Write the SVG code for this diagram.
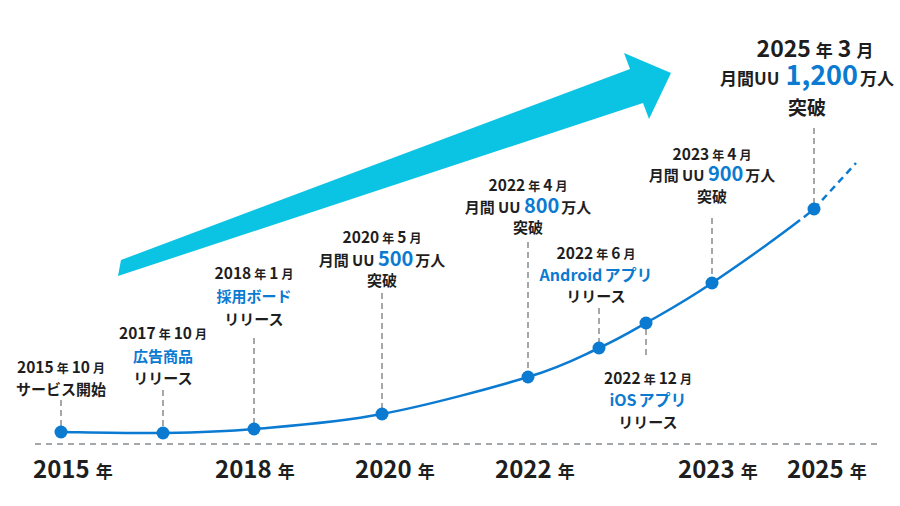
<svg xmlns="http://www.w3.org/2000/svg" width="900" height="506" viewBox="0 0 900 506">
<defs>
<style>
text{font-family:"Noto Sans CJK JP","Noto Sans",sans-serif;font-weight:700;fill:#1e1e1e;}
.m{text-anchor:middle;}
.b{fill:#0b7ad1;}
.lead{stroke:#a5a8ab;stroke-width:2;stroke-dasharray:6 4;fill:none;}
.dot{fill:#0b7ad1;}
.s{font-size:12px;}
.y{font-size:15.5px;}
.l{font-size:15px;}
.big{font-size:24px;}
</style>
</defs>
<rect width="900" height="506" fill="#fff"/>
<polygon id="arrow" points="121,260 630,69 624,53 671,73 649,119 643,103 118,276" fill="#0bc3e3"/>
<g id="connectors">
<line x1="35" y1="444" x2="882" y2="444" stroke="#a5a8ab" stroke-width="2" stroke-dasharray="6 5"/>
<line class="lead" x1="61" y1="400" x2="61" y2="426"/>
<line class="lead" x1="163" y1="390" x2="163" y2="427"/>
<line class="lead" x1="254" y1="338" x2="254" y2="423"/>
<line class="lead" x1="382" y1="293" x2="382" y2="408"/>
<line class="lead" x1="528" y1="242" x2="528" y2="371"/>
<line class="lead" x1="599" y1="308" x2="599" y2="342"/>
<line class="lead" x1="646" y1="329" x2="646" y2="356"/>
<line class="lead" x1="712" y1="218" x2="712" y2="277"/>
<line class="lead" x1="814" y1="128" x2="814" y2="203"/>
<path d="M61,432 C78,432.2 130.8,433.5 163,433 C195.2,432.5 217.5,432.2 254,429 C290.5,425.8 336.3,422.7 382,414 C427.7,405.3 491.8,388 528,377 C564.2,366 579.3,357 599,348 C618.7,339 627.2,333.8 646,323 C664.8,312.2 684,302 712,283" fill="none" stroke="#0b7ad1" stroke-width="2.5"/>
<path d="M712,283 C740,264 790.2,228.8 814,209" fill="none" stroke="#0b7ad1" stroke-width="2.5" stroke-dasharray="108 5 7 40"/>
<line x1="814" y1="209" x2="856" y2="163" stroke="#0b7ad1" stroke-width="2.5" stroke-dasharray="7 5"/>
</g>
<g id="n2015">
<circle class="dot" cx="61" cy="432" r="6.5"/>
<text class="m" x="61" y="373"><tspan class="y">2015</tspan><tspan class="s" dx="3">年</tspan><tspan class="y" dx="3">10</tspan><tspan class="s" dx="3">月</tspan></text>
<text class="m l" x="61" y="395">サービス開始</text>
</g>
<g id="n2017">
<circle class="dot" cx="163" cy="433" r="6.5"/>
<text class="m" x="163" y="339"><tspan class="y">2017</tspan><tspan class="s" dx="3">年</tspan><tspan class="y" dx="3">10</tspan><tspan class="s" dx="3">月</tspan></text>
<text class="m l b" x="163" y="362">広告商品</text>
<text class="m l" x="163" y="384">リリース</text>
</g>
<g id="n2018">
<circle class="dot" cx="254" cy="429" r="6.5"/>
<text class="m" x="254" y="279"><tspan class="y">2018</tspan><tspan class="s" dx="3">年</tspan><tspan class="y" dx="3">1</tspan><tspan class="s" dx="3">月</tspan></text>
<text class="m l b" x="254" y="302">採用ボード</text>
<text class="m l" x="254" y="325">リリース</text>
</g>
<g id="n2020">
<circle class="dot" cx="382" cy="414" r="6.5"/>
<text class="m" x="382" y="243"><tspan class="y">2020</tspan><tspan class="s" dx="3">年</tspan><tspan class="y" dx="3">5</tspan><tspan class="s" dx="3">月</tspan></text>
<text class="m l" x="382" y="266">月間 UU <tspan class="b" style="font-size:20px">500</tspan><tspan dx="2">万人</tspan></text>
<text class="m l" x="382" y="286">突破</text>
</g>
<g id="n2022a">
<circle class="dot" cx="528" cy="377" r="6.5"/>
<text class="m" x="528" y="191"><tspan class="y">2022</tspan><tspan class="s" dx="3">年</tspan><tspan class="y" dx="3">4</tspan><tspan class="s" dx="3">月</tspan></text>
<text class="m l" x="528" y="213">月間 UU <tspan class="b" style="font-size:20px">800</tspan><tspan dx="2">万人</tspan></text>
<text class="m l" x="528" y="233">突破</text>
</g>
<g id="n2022b">
<circle class="dot" cx="599" cy="348" r="6.5"/>
<text class="m" x="596" y="259"><tspan class="y">2022</tspan><tspan class="s" dx="3">年</tspan><tspan class="y" dx="3">6</tspan><tspan class="s" dx="3">月</tspan></text>
<text class="m b" x="596" y="281" style="font-size:16px">Android<tspan dx="2">アプリ</tspan></text>
<text class="m l" x="596" y="302">リリース</text>
</g>
<g id="n2022c">
<circle class="dot" cx="646" cy="323" r="6.5"/>
<text class="m" x="648" y="384"><tspan class="y">2022</tspan><tspan class="s" dx="3">年</tspan><tspan class="y" dx="3">12</tspan><tspan class="s" dx="3">月</tspan></text>
<text class="m b" x="648" y="406" style="font-size:16px">iOS<tspan dx="2">アプリ</tspan></text>
<text class="m l" x="648" y="428">リリース</text>
</g>
<g id="n2023">
<circle class="dot" cx="712" cy="283" r="6.5"/>
<text class="m" x="712" y="160"><tspan class="y">2023</tspan><tspan class="s" dx="3">年</tspan><tspan class="y" dx="3">4</tspan><tspan class="s" dx="3">月</tspan></text>
<text class="m l" x="712" y="181">月間 UU <tspan class="b" style="font-size:20px">900</tspan><tspan dx="2">万人</tspan></text>
<text class="m l" x="712" y="202">突破</text>
</g>
<g id="n2025">
<circle class="dot" cx="814" cy="209" r="6.5"/>
<text class="m" x="815" y="57"><tspan style="font-size:23px">2025</tspan><tspan style="font-size:17px" dx="5">年</tspan><tspan style="font-size:23px" dx="5">3</tspan><tspan style="font-size:17px" dx="5">月</tspan></text>
<text class="m" x="807" y="85"><tspan style="font-size:17px">月間UU</tspan><tspan class="b" style="font-size:27px" dx="6">1,200</tspan><tspan style="font-size:17px" dx="2">万人</tspan></text>
<text class="m" x="807" y="115" style="font-size:19px">突破</text>
</g>
<g id="axis">
<text x="33" y="478"><tspan class="big">2015</tspan><tspan style="font-size:17px" dx="6">年</tspan></text>
<text x="215" y="478"><tspan class="big">2018</tspan><tspan style="font-size:17px" dx="6">年</tspan></text>
<text x="355" y="478"><tspan class="big">2020</tspan><tspan style="font-size:17px" dx="6">年</tspan></text>
<text x="495" y="478"><tspan class="big">2022</tspan><tspan style="font-size:17px" dx="6">年</tspan></text>
<text x="678" y="478"><tspan class="big">2023</tspan><tspan style="font-size:17px" dx="6">年</tspan></text>
<text x="787" y="478"><tspan class="big">2025</tspan><tspan style="font-size:17px" dx="6">年</tspan></text>
</g>
</svg>
